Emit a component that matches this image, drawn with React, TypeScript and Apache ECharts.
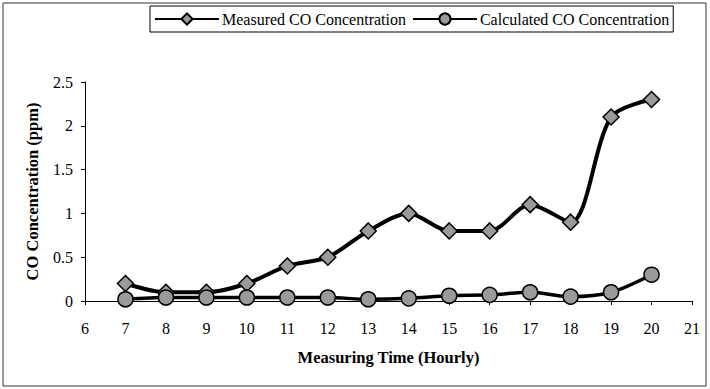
import React, { useEffect, useRef } from "react";
import * as echarts from "echarts";

const hours = [7, 8, 9, 10, 11, 12, 13, 14, 15, 16, 17, 18, 19, 20];
const measured = [0.2, 0.1, 0.1, 0.2, 0.4, 0.5, 0.8, 1.0, 0.8, 0.8, 1.1, 0.9, 2.1, 2.3];
const calculated = [0.02, 0.04, 0.04, 0.04, 0.04, 0.04, 0.02, 0.03, 0.06, 0.07, 0.1, 0.05, 0.1, 0.3];
const seriesNames = ["Measured CO Concentration", "Calculated CO Concentration"];
const xTitle = "Measuring Time (Hourly)";
const yTitle = "CO Concentration (ppm)";

const FONT = '"Times New Roman", "Liberation Serif", "DejaVu Serif", serif';

export default function App() {
  const ref = useRef<HTMLDivElement>(null);
  useEffect(() => {
    const chart = echarts.init(ref.current!, null, { renderer: "svg" });
    chart.setOption({
      animation: false,
      backgroundColor: "#ffffff",
      textStyle: { fontFamily: FONT, color: "#000" },
      graphic: [
        {
          type: "rect",
          shape: { x: 3, y: 3, width: 703, height: 383 },
          style: { fill: "none", stroke: "#333", lineWidth: 1 },
          silent: true,
        },
      ],
      legend: {
        left: 150,
        top: 6,
        width: 560,
        orient: "horizontal",
        borderColor: "#000",
        borderWidth: 1,
        padding: [5, 4, 5, 4],
        itemWidth: 64,
        itemHeight: 14,
        itemGap: 6,
        textStyle: { fontFamily: FONT, fontSize: 16, color: "#000", padding: [0, 0, 0, -2] },
        data: seriesNames,
      },
      grid: { left: 85, right: 18, top: 82, bottom: 88 },
      xAxis: {
        type: "value",
        min: 6,
        max: 21,
        interval: 1,
        name: xTitle,
        nameLocation: "middle",
        nameGap: 48,
        nameTextStyle: { fontFamily: FONT, fontSize: 16.5, fontWeight: "bold", color: "#000" },
        axisLine: { show: true, lineStyle: { color: "#000", width: 1 } },
        axisTick: { show: true, inside: false, length: 4, lineStyle: { color: "#000" } },
        axisLabel: { fontFamily: FONT, fontSize: 16, color: "#000", margin: 19 },
        splitLine: { show: false },
      },
      yAxis: {
        type: "value",
        min: 0,
        max: 2.5,
        interval: 0.5,
        name: yTitle,
        nameLocation: "middle",
        nameGap: 44,
        nameTextStyle: { fontFamily: FONT, fontSize: 16.5, fontWeight: "bold", color: "#000" },
        axisLine: { show: true, lineStyle: { color: "#000", width: 1 } },
        axisTick: { show: true, inside: false, length: 4, lineStyle: { color: "#000" } },
        axisLabel: { fontFamily: FONT, fontSize: 16, color: "#000", margin: 12 },
        splitLine: { show: false },
      },
      series: [
        {
          name: seriesNames[0],
          type: "line",
          smooth: 0.3,
          data: hours.map((h, i) => [h, measured[i]]),
          symbol: "diamond",
          symbolSize: 16,
          lineStyle: { color: "#000", width: 4 },
          itemStyle: { color: "#9a9a9a", borderColor: "#000", borderWidth: 1.5 },
          z: 3,
        },
        {
          name: seriesNames[1],
          type: "line",
          smooth: 0.3,
          data: hours.map((h, i) => [h, calculated[i]]),
          symbol: "circle",
          symbolSize: 15,
          lineStyle: { color: "#000", width: 3.5 },
          itemStyle: { color: "#9a9a9a", borderColor: "#000", borderWidth: 1.5 },
          z: 4,
        },
      ],
    });
    return () => chart.dispose();
  }, []);
  return <div ref={ref} style={{ width: 710, height: 389, position: "absolute", left: 0, top: 0 }} />;
}
